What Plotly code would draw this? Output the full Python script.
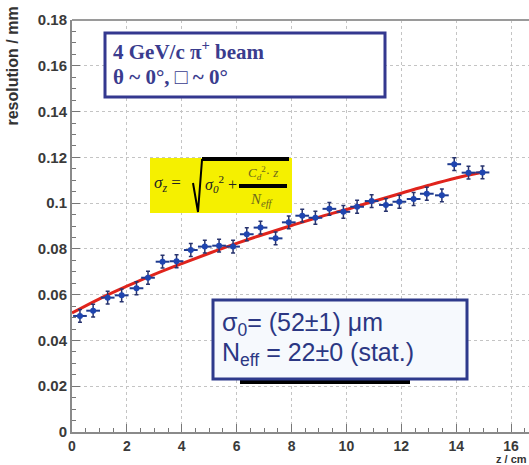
import plotly.graph_objects as go

# ---- data ----
z_cm = [0.29, 0.77, 1.30, 1.81, 2.35, 2.77, 3.30, 3.81, 4.33, 4.84,
        5.36, 5.87, 6.37, 6.87, 7.42, 7.90, 8.39, 8.87, 9.38, 9.89,
        10.39, 10.92, 11.44, 11.93, 12.45, 12.93, 13.48, 13.93, 14.45, 14.96]
resolution_mm = [0.0507, 0.0530, 0.0587, 0.0597, 0.0628, 0.0674, 0.0744, 0.0746, 0.0795, 0.0810,
                 0.0814, 0.0810, 0.0864, 0.0893, 0.0846, 0.0916, 0.0945, 0.0936, 0.0975, 0.0962,
                 0.0984, 0.1009, 0.0992, 0.1006, 0.1018, 0.1041, 0.1034, 0.1170, 0.1133, 0.1134]
z_err = [0.25] * len(z_cm)
res_err = [0.0028] * len(z_cm)

fit_z = [0, 1, 2, 3, 4, 5, 6, 7, 8, 9, 10, 11, 12, 13, 14, 15]
fit_res = [0.0520, 0.0582, 0.0637, 0.0689, 0.0736, 0.0781, 0.0824, 0.0864,
           0.0902, 0.0939, 0.0972, 0.1008, 0.1043, 0.1078, 0.1110, 0.1136]

x_ticks = [0, 2, 4, 6, 8, 10, 12, 14, 16]
x_tick_text = ["0", "2", "4", "6", "8", "10", "12", "14", "16"]
y_ticks = [0, 0.02, 0.04, 0.06, 0.08, 0.1, 0.12, 0.14, 0.16, 0.18]
y_tick_text = ["0", "0.02", "0.04", "0.06", "0.08", "0.1", "0.12", "0.14", "0.16", "0.18"]

# ---- geometry helpers (pixel -> paper) ----
W, H = 529, 465
ML, MR, MT, MB = 72, 0, 20, 33
PW, PH = W - ML - MR, H - MT - MB


def px(xp):
    return (xp - ML) / PW


def py(yp):
    return (H - MB - yp) / PH


fig = go.Figure()

fig.add_trace(go.Scatter(
    x=fit_z, y=fit_res, mode="lines", line=dict(color="#e0241c", width=3, shape="spline"),
    hoverinfo="skip", showlegend=False))

fig.add_trace(go.Scatter(
    x=z_cm, y=resolution_mm, mode="markers",
    marker=dict(color="#1f45b0", size=6),
    error_x=dict(type="data", array=z_err, color="#1e3a8e", thickness=2, width=0),
    error_y=dict(type="data", array=res_err, color="#27336e", thickness=1.5, width=2),
    showlegend=False))

NAVY = "#34388f"
shapes = []
annotations = []

# top frame line
shapes.append(dict(type="line", xref="paper", yref="paper", x0=0, x1=1, y0=1, y1=1,
                   line=dict(color="#9a9a9a", width=2)))

# beam box
shapes.append(dict(type="rect", xref="paper", yref="paper",
                   x0=px(105), x1=px(385), y0=py(97), y1=py(33),
                   line=dict(color=NAVY, width=3), fillcolor="white"))
SERIF = "Liberation Serif, Times New Roman, serif"
annotations.append(dict(xref="paper", yref="paper", x=px(111), y=py(51), xanchor="left", yanchor="middle",
                        text="<b>4 GeV/c π<sup>+</sup> beam</b>", showarrow=False,
                        font=dict(family=SERIF, size=21, color="#3a3c8e")))
annotations.append(dict(xref="paper", yref="paper", x=px(111), y=py(77), xanchor="left", yanchor="middle",
                        text="<b>θ ~ 0°, □ ~ 0°</b>", showarrow=False,
                        font=dict(family=SERIF, size=21, color="#3a3c8e")))

# formula box (yellow)
shapes.append(dict(type="rect", xref="paper", yref="paper",
                   x0=px(150), x1=px(292), y0=py(213), y1=py(158),
                   line=dict(width=0), fillcolor="#f5f000"))
# radical + overline
shapes.append(dict(type="path", xref="paper", yref="paper",
                   path=f"M {px(193)} {py(183)} L {px(198)} {py(212)} L {px(202)} {py(160)} L {px(289)} {py(160)}",
                   line=dict(color="black", width=2)))
shapes.append(dict(type="line", xref="paper", yref="paper", x0=px(202), x1=px(289), y0=py(159), y1=py(159),
                   line=dict(color="black", width=4)))
# fraction bar
shapes.append(dict(type="line", xref="paper", yref="paper", x0=px(239), x1=px(287), y0=py(186), y1=py(186),
                   line=dict(color="black", width=4)))
annotations.append(dict(xref="paper", yref="paper", x=px(152), y=py(184), xanchor="left", yanchor="middle",
                        text="<i>σ<sub>z</sub></i> =", showarrow=False,
                        font=dict(family=SERIF, size=17, color="#222")))
annotations.append(dict(xref="paper", yref="paper", x=px(203), y=py(184), xanchor="left", yanchor="middle",
                        text="<i>σ<sub>0</sub></i><sup>2</sup> +", showarrow=False,
                        font=dict(family=SERIF, size=16, color="#222")))
annotations.append(dict(xref="paper", yref="paper", x=px(263), y=py(173), xanchor="center", yanchor="middle",
                        text="<i>C<sub>d</sub></i><sup>2</sup>· <i>z</i>", showarrow=False,
                        font=dict(family=SERIF, size=13, color="#6d6a1c")))
annotations.append(dict(xref="paper", yref="paper", x=px(262), y=py(200), xanchor="center", yanchor="middle",
                        text="<i>N<sub>eff</sub></i>", showarrow=False,
                        font=dict(family=SERIF, size=15, color="#6d6a1c")))

# result box
SANS = "Liberation Sans, Arial, sans-serif"
shapes.append(dict(type="rect", xref="paper", yref="paper",
                   x0=px(240), x1=px(410), y0=py(384), y1=py(380),
                   line=dict(width=0), fillcolor="black"))
shapes.append(dict(type="rect", xref="paper", yref="paper",
                   x0=px(213), x1=px(467), y0=py(379), y1=py(300),
                   line=dict(color="#2e3a8c", width=3), fillcolor="#f6f9fd"))
annotations.append(dict(xref="paper", yref="paper", x=px(220), y=py(324), xanchor="left", yanchor="middle",
                        text="σ<sub>0</sub>= (52±1) μm", showarrow=False,
                        font=dict(family=SANS, size=25, color="#2b3783")))
annotations.append(dict(xref="paper", yref="paper", x=px(220), y=py(354), xanchor="left", yanchor="middle",
                        text="N<sub>eff</sub> = 22±0 (stat.)", showarrow=False,
                        font=dict(family=SANS, size=25, color="#2b3783")))

# axis titles
annotations.append(dict(xref="paper", yref="paper", x=px(12), y=py(5), xanchor="center", yanchor="top",
                        text="<b>resolution / mm</b>", textangle=-90, showarrow=False,
                        font=dict(family=SANS, size=16, color="#333")))
annotations.append(dict(xref="paper", yref="paper", x=px(528), y=py(466), xanchor="right", yanchor="bottom",
                        text="<b>z / cm</b>", showarrow=False, borderpad=0,
                        font=dict(family=SANS, size=11, color="#333")))

tickfont = dict(family=SANS, size=15, color="#3a3a3a", weight="bold")
xtickfont = dict(family=SANS, size=14, color="#3a3a3a", weight="bold")

fig.update_layout(
    width=W, height=H, margin=dict(l=ML, r=MR, t=MT, b=MB, pad=0, autoexpand=False),
    paper_bgcolor="white", plot_bgcolor="white",
    shapes=shapes, annotations=annotations,
    xaxis=dict(range=[0, PW / 27.44], tickvals=x_ticks, ticktext=x_tick_text, tickfont=xtickfont,
               automargin=False,
               ticks="inside", ticklen=8, tickcolor="#777", tickwidth=1,
               showline=True, linecolor="#8a8a8a", linewidth=2,
               showgrid=True, gridcolor="#c4c4c4", griddash="dot", gridwidth=1,
               zeroline=False,
               minor=dict(dtick=0.5, ticks="inside", ticklen=4, tickcolor="#777", showgrid=False)),
    yaxis=dict(range=[0, 0.18], tickvals=y_ticks, ticktext=y_tick_text, tickfont=tickfont,
               automargin=False,
               ticks="inside", ticklen=8, tickcolor="#777", tickwidth=1,
               showline=True, linecolor="#8a8a8a", linewidth=2,
               showgrid=True, gridcolor="#c4c4c4", griddash="dot", gridwidth=1,
               zeroline=False,
               minor=dict(dtick=0.005, ticks="inside", ticklen=4, tickcolor="#777", showgrid=False)),
)

fig.write_html("out.html", config={"displayModeBar": False},
               post_script="document.body.style.margin='0px';")
